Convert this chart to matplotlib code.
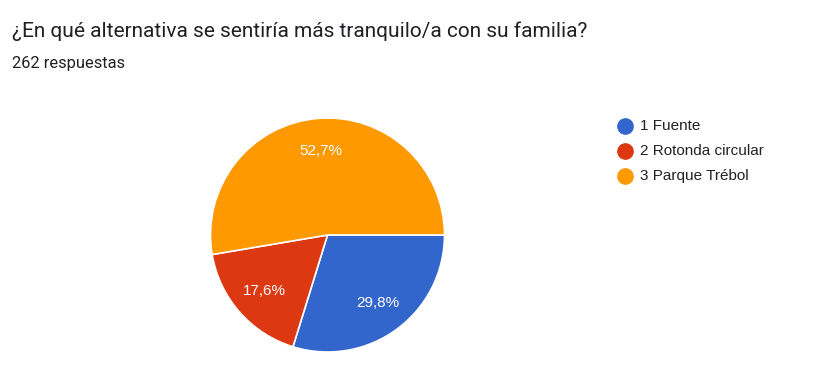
import matplotlib.pyplot as plt
from matplotlib.lines import Line2D

title = "¿En qué alternativa se sentiría más tranquilo/a con su familia?"
subtitle = "262 respuestas"
labels = ["1 Fuente", "2 Rotonda circular", "3 Parque Trébol"]
counts = [78, 46, 138]  # 29,8% / 17,6% / 52,7% of 262
colors = ["#3366CC", "#DC3912", "#FF9900"]

W, H = 814, 374
fig = plt.figure(figsize=(W / 100, H / 100), dpi=100)

# pie axes, center ~ (327.5, 235) px, radius 117 px
cx, cy, r = 327.5, 235, 117
ax = fig.add_axes([(cx - r) / W, (H - cy - r) / H, 2 * r / W, 2 * r / H])
wedges, texts, autotexts = ax.pie(
    counts, colors=colors, startangle=0, counterclock=False, radius=1,
    autopct=lambda p: f"{p:.1f}%".replace(".", ","), pctdistance=0.72,
    wedgeprops=dict(edgecolor="white", linewidth=1.2),
    textprops=dict(color="white", fontsize=11, family="Liberation Sans"))
ax.set_xlim(-1, 1)
ax.set_ylim(-1, 1)
ax.set_aspect("equal")
ax.axis("off")

fig.text(12 / W, 1 - 37 / H, title, fontsize=15, family="Roboto",
         color="#202124", va="baseline")
fig.text(12 / W, 1 - 68 / H, subtitle, fontsize=11.8, family="Roboto",
         color="#202124", va="baseline")

# legend
for i, (lab, col) in enumerate(zip(labels, colors)):
    y = 1 - (126 + i * 25) / H
    fig.add_artist(Line2D([625 / W], [y], marker="o", markersize=11,
                          color=col, transform=fig.transFigure))
    fig.text(640 / W, y, lab, fontsize=11, family="Liberation Sans",
             color="#222222", va="center")

fig.savefig("out.png", dpi=100)
